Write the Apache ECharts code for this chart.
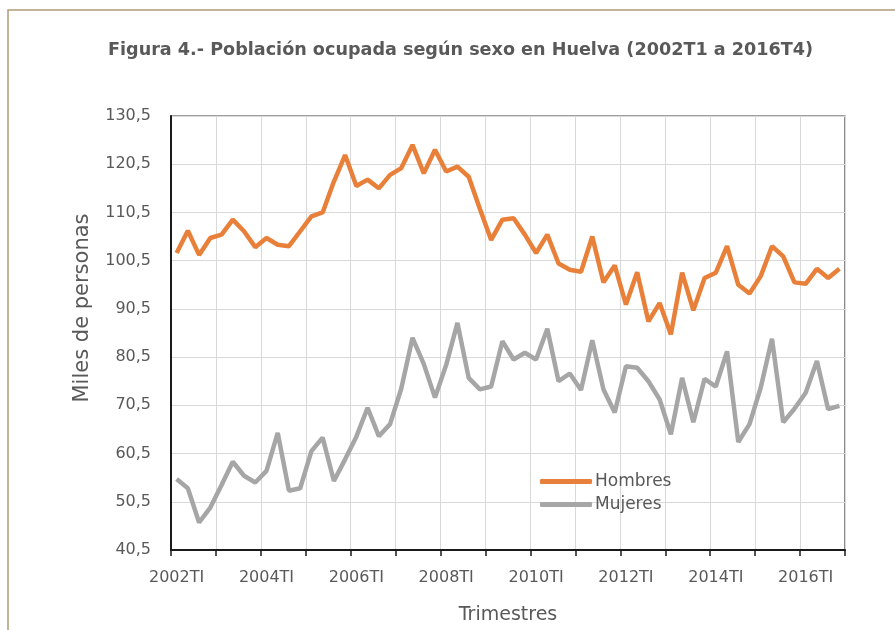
<!DOCTYPE html>
<html>
<head>
<meta charset="utf-8">
<script src="https://cdn.jsdelivr.net/npm/echarts@6/dist/echarts.min.js"></script>
<style>
html,body{margin:0;padding:0;background:#fff;}
#chart{width:895px;height:630px;}
</style>
</head>
<body>
<div id="chart"></div>
<script>
const years = [2002,2003,2004,2005,2006,2007,2008,2009,2010,2011,2012,2013,2014,2015,2016];
const quarters = ['TI','TII','TIII','TIV'];
const categories = [];
years.forEach(y => quarters.forEach(q => categories.push(y + q)));

const hombres = [102.1,106.7,101.7,105.2,105.9,109.0,106.6,103.3,105.2,103.8,103.5,106.6,109.7,110.5,116.9,122.4,116.0,117.3,115.5,118.3,119.7,124.5,118.6,123.5,119.0,120.0,117.9,111.2,104.8,109.0,109.3,105.9,102.1,105.9,99.9,98.6,98.2,105.5,96.0,99.5,91.4,98.1,87.9,91.7,85.2,98.0,90.2,96.9,98.0,103.5,95.5,93.7,97.3,103.5,101.4,96.0,95.7,98.8,96.9,98.8];
const mujeres = [55.2,53.3,46.2,49.3,54.0,58.8,55.9,54.5,56.9,64.8,52.8,53.3,61.0,63.8,54.8,59.3,64.0,70.0,64.1,66.6,74.0,84.5,79.1,72.1,78.9,87.6,76.2,73.8,74.4,83.8,80.0,81.4,80.0,86.4,75.5,77.1,73.7,84.0,73.8,69.0,78.6,78.3,75.5,71.7,64.5,76.2,67.0,76.0,74.4,81.7,62.9,66.6,74.2,84.3,67.0,69.8,73.1,79.7,69.7,70.4];

const txt = '#595959';
const font = 'DejaVu Sans';
const chart = echarts.init(document.getElementById('chart'), null, {renderer:'canvas'});
chart.setOption({
  backgroundColor:'#fff',
  animation:false,
  title:{
    text:'Figura 4.- Población ocupada según sexo en Huelva (2002T1 a 2016T4)',
    left:103, top:36,
    textStyle:{color:txt, fontFamily:font, fontWeight:'bold', fontSize:17.6}
  },
  legend:{
    orient:'vertical', left:535, top:468, itemGap:6,
    itemWidth:52, itemHeight:5, icon:'roundRect',
    textStyle:{color:txt, fontFamily:font, fontSize:17, padding:[0,0,0,-2]},
    data:['Hombres','Mujeres']
  },
  grid:{left:171, right:50, top:116, bottom:79, show:true, borderColor:'#404040', borderWidth:1.2},
  xAxis:{
    type:'category', data:categories, boundaryGap:true,
    name:'Trimestres', nameLocation:'middle', nameGap:56,
    nameTextStyle:{color:txt, fontFamily:font, fontSize:19},
    axisLine:{lineStyle:{color:'#1a1a1a', width:2}},
    axisTick:{show:true, interval:3, length:6, lineStyle:{color:'#1a1a1a', width:1.5}},
    axisLabel:{interval:7, color:txt, fontFamily:font, fontSize:16, margin:20},
    splitLine:{show:true, interval:3, lineStyle:{color:'#d9d9d9', width:1}}
  },
  yAxis:{
    type:'value', min:40.5, max:130.5, interval:10,
    axisLine:{show:true, lineStyle:{color:'#1a1a1a', width:2}},
    axisTick:{show:false},
    axisLabel:{color:txt, fontFamily:font, fontSize:16, margin:20,
      formatter:v => v.toFixed(1).replace('.', ',')},
    splitLine:{show:true, lineStyle:{color:'#d9d9d9', width:1}}
  },
  graphic:[
    {type:'polyline', shape:{points:[[8,630],[8,10],[895,10]]}, style:{stroke:'#b09a78', lineWidth:1.5, fill:null}, silent:true},
    {type:'text', x:83, y:308, rotation:Math.PI/2, style:{text:'Miles de personas', fill:txt, font:'21px "DejaVu Sans"', align:'center', verticalAlign:'middle'}}
  ],
  series:[
    {name:'Hombres', type:'line', data:hombres, symbol:'none', lineStyle:{color:'#E8803A', width:4.5}, itemStyle:{color:'#E8803A'}},
    {name:'Mujeres', type:'line', data:mujeres, symbol:'none', lineStyle:{color:'#A6A6A6', width:4.5}, itemStyle:{color:'#A6A6A6'}}
  ]
});
</script>
</body>
</html>
